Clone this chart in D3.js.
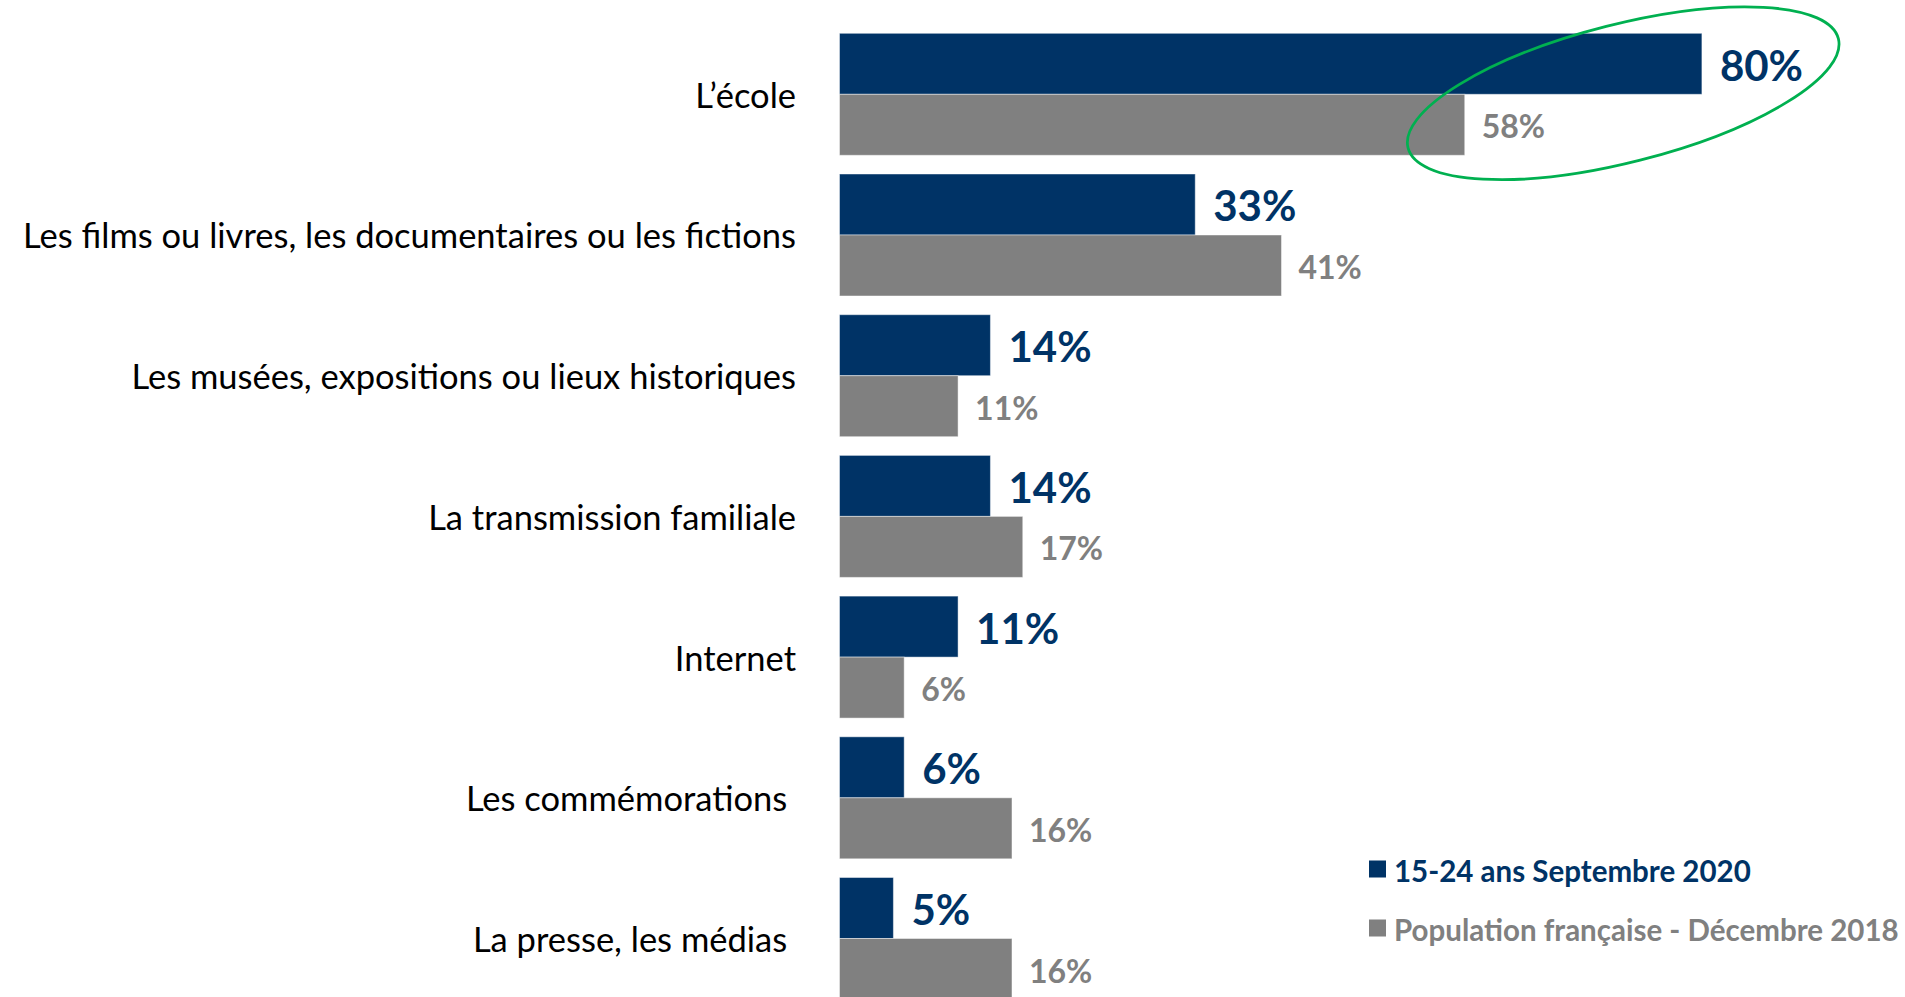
<!DOCTYPE html>
<html>
<head>
<meta charset="utf-8">
<script src="https://cdn.jsdelivr.net/npm/d3@7"></script>
<style>
html, body { margin: 0; padding: 0; background: #ffffff; }
svg { display: block; }
text { white-space: pre; }
</style>
</head>
<body>
<svg id="chart" width="1905" height="997"></svg>
<script>
const categories = [
  "L\u2019école",
  "Les films ou livres, les documentaires ou les fictions",
  "Les musées, expositions ou lieux historiques",
  "La transmission familiale",
  "Internet",
  "Les commémorations ",
  "La presse, les médias "
];
const youth2020 = [80, 33, 14, 14, 11, 6, 5];
const population2018 = [58, 41, 11, 17, 6, 16, 16];
const seriesNames = ["15-24 ans Septembre 2020", "Population française - Décembre 2018"];
const seriesColors = ["#003366", "#808080"];

const svg = d3.select("#chart");
const x = d3.scaleLinear().domain([0, 100]).range([839.5, 1917.5]);
const y = d3.scaleBand().domain(categories).range([33.3, 999.5]).paddingInner(0.133).paddingOuter(0);
const inner = d3.scaleBand().domain([0, 1]).range([0, y.bandwidth()]);

const series = [youth2020, population2018];
const FONT = "Lato, 'Open Sans', sans-serif";

// category labels
svg.append("g").selectAll("text").data(categories).join("text")
  .attr("x", 796)
  .attr("y", d => y(d) + y.bandwidth() / 2)
  .attr("text-anchor", "end")
  .attr("dominant-baseline", "central")
  .attr("font-family", FONT)
  .attr("font-size", 34.5)
  .attr("fill", "#000000")
  .text(d => d);

series.forEach((vals, si) => {
  const g = svg.append("g");
  g.selectAll("rect").data(vals).join("rect")
    .attr("x", x(0))
    .attr("y", (d, i) => y(categories[i]) + inner(si))
    .attr("width", d => x(d) - x(0))
    .attr("height", inner.bandwidth())
    .attr("fill", seriesColors[si])
    .attr("stroke", "rgba(255,255,255,0.45)")
    .attr("stroke-width", 1);
  g.selectAll("text").data(vals).join("text")
    .attr("x", d => x(d) + (si === 0 ? 18 : 17))
    .attr("y", (d, i) => y(categories[i]) + inner(si) + inner.bandwidth() / 2 + 1)
    .attr("dominant-baseline", "central")
    .attr("font-family", FONT)
    .attr("font-weight", "bold")
    .attr("font-size", si === 0 ? 42 : 32)
    .attr("fill", seriesColors[si])
    .text(d => d + "%");
});

// highlight ellipse around the first category
const cx = x(72.7), cy = y(categories[0]) + y.bandwidth() / 2 - 1;
svg.append("ellipse")
  .attr("cx", 0).attr("cy", 0)
  .attr("rx", 222).attr("ry", 69)
  .attr("transform", `translate(${cx},${cy}) rotate(-14.25)`)
  .attr("fill", "none")
  .attr("stroke", "#00B050")
  .attr("stroke-width", 2.75);

// legend
const legend = svg.append("g").attr("transform", "translate(1369,869)");
const lg = legend.selectAll("g").data(seriesNames).join("g")
  .attr("transform", (d, i) => `translate(0,${i * 59})`);
lg.append("rect").attr("x", 0).attr("y", -8.5).attr("width", 17).attr("height", 17)
  .attr("fill", (d, i) => seriesColors[i]);
lg.append("text").attr("x", 25).attr("y", 1)
  .attr("dominant-baseline", "central")
  .attr("font-family", FONT).attr("font-weight", "bold").attr("font-size", 29.5)
  .attr("fill", (d, i) => seriesColors[i])
  .text(d => d);
</script>
</body>
</html>
